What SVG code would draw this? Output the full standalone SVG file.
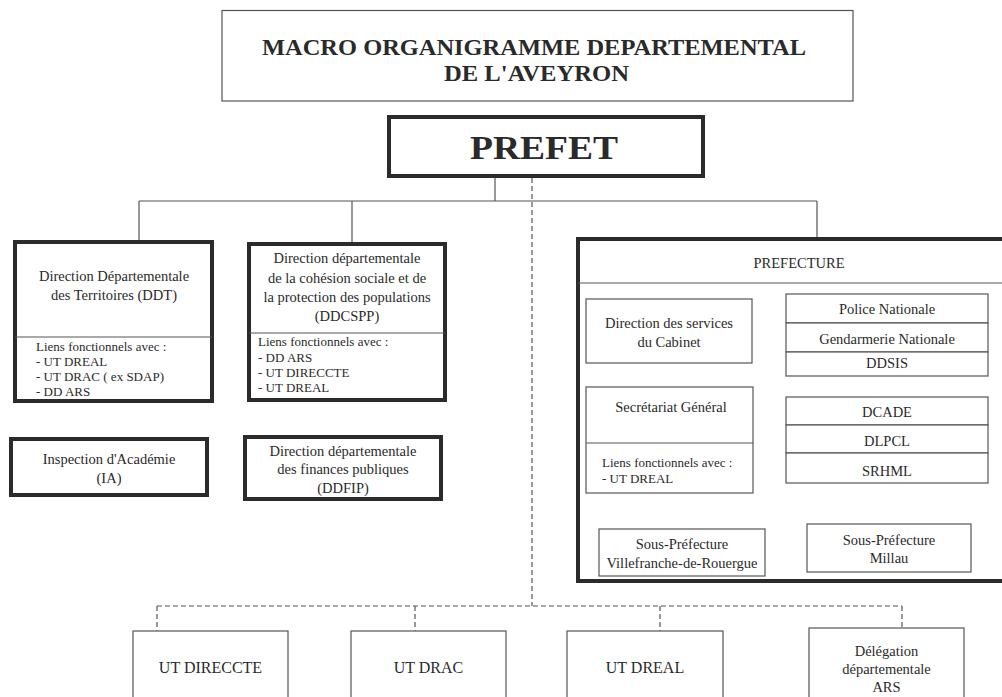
<svg xmlns="http://www.w3.org/2000/svg" width="1002" height="697" viewBox="0 0 1002 697">
<style>
text{font-family:"Liberation Serif","Times New Roman",serif;fill:#2a2a2a}
.m{font-size:14.5px;text-anchor:middle}
.s{font-size:13px}
.b{font-size:16px;text-anchor:middle}
.thin{fill:#fff;stroke:#555;stroke-width:1.2}
.thick{fill:#fff;stroke:#2b2b2b;stroke-width:4}
.ln{stroke:#555;stroke-width:1.2;fill:none}
.dash{stroke:#555;stroke-width:1.2;fill:none;stroke-dasharray:5,3}
</style>
<rect width="1002" height="697" fill="#fff"/>
<g id="connectors">
<path class="ln" d="M495 178V201M139 201H817M139 201V240M352 201V242M817 201V237"/>
<path class="dash" d="M532 178V606M157 606H902M157 606V631M415 606V631M660 606V631M902 606V628"/>
<path class="ln" d="M752 311H786M752 337H786M752 359H786M753 412H786M753 440H786M753 474H786"/>
</g>
<g id="title">
<rect class="thin" x="222" y="10.5" width="631" height="90.5"/>
<text x="534" y="55" text-anchor="middle" font-size="24" font-weight="bold" textLength="544" lengthAdjust="spacingAndGlyphs">MACRO ORGANIGRAMME DEPARTEMENTAL</text>
<text x="536.5" y="81" text-anchor="middle" font-size="24" font-weight="bold" textLength="185" lengthAdjust="spacingAndGlyphs">DE L'AVEYRON</text>
</g>
<g id="prefet">
<rect class="thick" x="389" y="117" width="314" height="59"/>
<text x="544" y="159" text-anchor="middle" font-size="34" font-weight="bold" textLength="148" lengthAdjust="spacingAndGlyphs">PREFET</text>
</g>
<g id="ddt">
<rect class="thick" x="15" y="242" width="197" height="159"/>
<path class="ln" d="M15 337H212"/>
<text class="m" x="114" y="281">Direction Départementale</text>
<text class="m" x="114" y="300">des Territoires (DDT)</text>
<text class="s" x="36" y="351">Liens fonctionnels avec :</text>
<text class="s" x="36" y="366">- UT DREAL</text>
<text class="s" x="36" y="381">- UT DRAC ( ex SDAP)</text>
<text class="s" x="36" y="396">- DD ARS</text>
</g>
<g id="ddcspp">
<rect class="thick" x="249" y="244" width="196" height="156"/>
<path class="ln" d="M249 333H445"/>
<text class="m" x="347" y="263">Direction départementale</text>
<text class="m" x="347" y="283">de la cohésion sociale et de</text>
<text class="m" x="347" y="302">la protection des populations</text>
<text class="m" x="347" y="321">(DDCSPP)</text>
<text class="s" x="258" y="346">Liens fonctionnels avec :</text>
<text class="s" x="258" y="362">- DD ARS</text>
<text class="s" x="258" y="377">- UT DIRECCTE</text>
<text class="s" x="258" y="392">- UT DREAL</text>
</g>
<g id="ia">
<rect class="thick" x="11" y="439" width="196" height="56"/>
<text class="m" x="109" y="464">Inspection d'Académie</text>
<text class="m" x="109" y="483">(IA)</text>
</g>
<g id="ddfip">
<rect class="thick" x="245" y="437" width="196" height="62"/>
<text class="m" x="343" y="456">Direction départementale</text>
<text class="m" x="343" y="474">des finances publiques</text>
<text class="m" x="343" y="493">(DDFIP)</text>
</g>
<g id="prefecture">
<rect class="thick" x="578" y="239" width="440" height="342"/>
<path class="ln" d="M578 283H1002"/>
<text class="m" x="799" y="268">PREFECTURE</text>
</g>
<g id="cabinet">
<rect class="thin" x="586" y="299" width="166" height="64"/>
<text class="m" x="669" y="328">Direction des services</text>
<text class="m" x="669" y="347">du Cabinet</text>
</g>
<g id="police">
<rect class="thin" x="786" y="294" width="202" height="29"/>
<text class="m" x="887" y="314">Police Nationale</text>
</g>
<g id="gendarmerie">
<rect class="thin" x="786" y="323" width="202" height="29"/>
<text class="m" x="887" y="344">Gendarmerie Nationale</text>
</g>
<g id="ddsis">
<rect class="thin" x="786" y="352" width="202" height="24"/>
<text class="m" x="887" y="368">DDSIS</text>
</g>
<g id="sg">
<rect class="thin" x="586" y="387" width="167" height="106"/>
<path class="ln" d="M586 443H753"/>
<text class="m" x="671" y="412">Secrétariat Général</text>
<text class="s" x="602" y="467">Liens fonctionnels avec :</text>
<text class="s" x="602" y="483">- UT DREAL</text>
</g>
<g id="dcade">
<rect class="thin" x="786" y="397" width="202" height="28"/>
<text class="m" x="887" y="417">DCADE</text>
</g>
<g id="dlpcl">
<rect class="thin" x="786" y="425" width="202" height="28"/>
<text class="m" x="887" y="446">DLPCL</text>
</g>
<g id="srhml">
<rect class="thin" x="786" y="453" width="202" height="30"/>
<text class="m" x="887" y="476">SRHML</text>
</g>
<g id="sp-villefranche">
<rect class="thin" x="599" y="529" width="166" height="47"/>
<text class="m" x="682" y="549">Sous-Préfecture</text>
<text class="m" x="682" y="568">Villefranche-de-Rouergue</text>
</g>
<g id="sp-millau">
<rect class="thin" x="807" y="524" width="164" height="48"/>
<text class="m" x="889" y="545">Sous-Préfecture</text>
<text class="m" x="889" y="563">Millau</text>
</g>
<g id="ut-direccte">
<rect class="thin" x="133" y="631" width="155" height="80"/>
<text class="b" x="210.5" y="673">UT DIRECCTE</text>
</g>
<g id="ut-drac">
<rect class="thin" x="351" y="631" width="155" height="80"/>
<text class="b" x="428.5" y="673">UT DRAC</text>
</g>
<g id="ut-dreal">
<rect class="thin" x="567" y="631" width="156" height="80"/>
<text class="b" x="645" y="673">UT DREAL</text>
</g>
<g id="dd-ars">
<rect class="thin" x="809" y="628" width="155" height="83"/>
<text class="m" x="886.5" y="656">Délégation</text>
<text class="m" x="886.5" y="674">départementale</text>
<text class="m" x="886.5" y="692">ARS</text>
</g>
</svg>
